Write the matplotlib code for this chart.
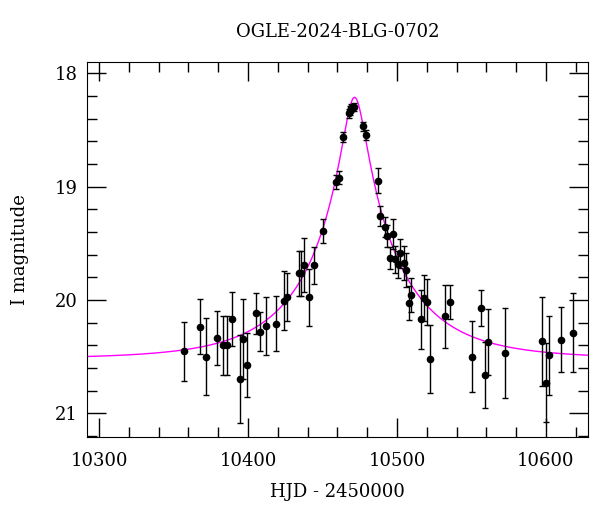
import numpy as np
import matplotlib
matplotlib.use("Agg")
import matplotlib.pyplot as plt
from matplotlib.ticker import MultipleLocator

# photometry
hjd = [10356.9, 10367.9, 10371.9, 10378.9, 10382.9, 10386.0, 10388.9, 10394.8,
       10396.8, 10399.0, 10405.1, 10408.0, 10412.0, 10419.0, 10424.2, 10425.9,
       10434.0, 10435.3, 10437.3, 10441.2, 10444.0, 10450.1, 10459.3, 10461.3,
       10463.8, 10467.6, 10468.3, 10469.4, 10470.8, 10477.3, 10479.3, 10487.1,
       10488.9, 10492.1, 10493.4, 10495.2, 10497.0, 10498.7, 10500.5, 10502.1,
       10504.8, 10506.2, 10508.2, 10509.1, 10516.3, 10517.8, 10520.3, 10522.0,
       10532.1, 10535.3, 10550.1, 10556.3, 10559.0, 10561.3, 10572.3, 10597.1,
       10600.3, 10602.0, 10610.1, 10618.4]
mag = [20.455, 20.236, 20.50, 20.336, 20.40, 20.40, 20.17, 20.70,
       20.345, 20.575, 20.12, 20.28, 20.23, 20.21, 20.006, 19.977,
       19.767, 19.765, 19.69, 19.977, 19.696, 19.396, 18.96, 18.92,
       18.56, 18.354, 18.33, 18.31, 18.295, 18.466, 18.546, 18.95,
       19.26, 19.357, 19.437, 19.63, 19.42, 19.64, 19.685, 19.59,
       19.676, 19.74, 20.024, 19.956, 20.17, 19.982, 20.02, 20.525,
       20.145, 20.015, 20.50, 20.074, 20.66, 20.37, 20.47, 20.366,
       20.73, 20.49, 20.35, 20.29]
err = [0.26, 0.24, 0.34, 0.24, 0.26, 0.26, 0.24, 0.39,
       0.35, 0.28, 0.18, 0.17, 0.255, 0.24, 0.26, 0.21,
       0.20, 0.20, 0.24, 0.25, 0.165, 0.106, 0.06, 0.06,
       0.045, 0.04, 0.04, 0.035, 0.035, 0.04, 0.045, 0.11,
       0.09, 0.09, 0.10, 0.10, 0.13, 0.12, 0.12, 0.13,
       0.15, 0.15, 0.15, 0.15, 0.26, 0.20, 0.20, 0.30,
       0.28, 0.15, 0.31, 0.16, 0.29, 0.29, 0.40, 0.39,
       0.35, 0.35, 0.29, 0.35]

# point-lens model parameters
t0 = 10471.5
tE = 62.0
u0 = 0.12
I0 = 20.52

t = np.linspace(10285, 10635, 1500)
u = np.sqrt(u0**2 + ((t - t0) / tE)**2)
A = (u**2 + 2) / (u * np.sqrt(u**2 + 4))
model = I0 - 2.5 * np.log10(A)

plt.rcParams['font.family'] = ['DejaVu Serif']

fig = plt.figure(figsize=(6, 5.12), dpi=100)
ax = fig.add_axes([0.145, 0.1465, 0.835, 0.7325])

ax.plot(t, model, color='#ff00ff', lw=1.0, zorder=1)
ax.errorbar(hjd, mag, yerr=err, fmt='o', color='black', ms=4.5,
            elinewidth=1.0, capsize=2.5, capthick=1.0, zorder=2)

ax.set_xlim(10291.9, 10628.2)
ax.set_ylim(21.21, 17.9)

ax.xaxis.set_major_locator(MultipleLocator(100))
ax.xaxis.set_minor_locator(MultipleLocator(20))
ax.yaxis.set_major_locator(MultipleLocator(1))
ax.yaxis.set_minor_locator(MultipleLocator(0.2))
ax.tick_params(which='both', direction='in', top=True, right=True,
               labelsize=13, width=1.0)
ax.tick_params(which='major', length=13.5)
ax.tick_params(axis='x', which='major', pad=11)
ax.tick_params(axis='y', which='major', pad=7)
ax.tick_params(which='minor', length=7)

ax.set_title('OGLE-2024-BLG-0702', fontsize=13, pad=18)
ax.set_xlabel('HJD - 2450000', fontsize=13, labelpad=9)
ax.set_ylabel('I magnitude', fontsize=13, labelpad=18)

fig.savefig('out.png', dpi=100)
